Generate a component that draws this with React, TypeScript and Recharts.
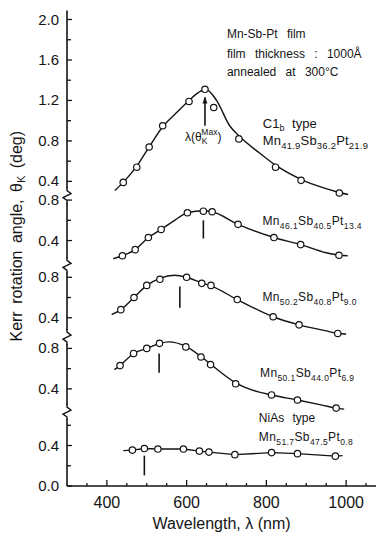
import { ComposedChart, Line, Scatter, XAxis, YAxis, ReferenceLine, ReferenceDot, Label } from 'recharts';

const INK = '#141414';
const FONT = '"Liberation Sans", Arial, Helvetica, sans-serif';

// each panel is stacked on one axis; zero of panel i sits at offsets[i]
const offsets = [2.611, 2.026, 1.263, 0.56, 0];
const breaks = [2.871, 2.181, 1.472, 0.731];

// measured points (wavelength nm, Kerr angle deg)
const wl1 = [441, 475, 506, 540, 606, 646, 668, 731, 823, 887, 983];
const kerr1 = [0.39, 0.54, 0.74, 0.95, 1.19, 1.31, 1.13, 0.82, 0.54, 0.41, 0.285];
const wl2 = [439, 471, 504, 536, 602, 642, 664, 729, 819, 886, 982];
const kerr2 = [0.25, 0.31, 0.43, 0.51, 0.675, 0.69, 0.685, 0.56, 0.43, 0.36, 0.255];
const wl3 = [435, 468, 500, 533, 600, 638, 661, 727, 817, 882, 979];
const kerr3 = [0.48, 0.6, 0.72, 0.78, 0.8, 0.74, 0.72, 0.58, 0.41, 0.33, 0.245];
const wl4 = [433, 467, 500, 532, 598, 636, 660, 723, 813, 878, 975];
const kerr4 = [0.63, 0.75, 0.8, 0.85, 0.815, 0.715, 0.64, 0.45, 0.34, 0.29, 0.21];
const wl5 = [464, 494, 528, 592, 632, 656, 721, 813, 878, 973];
const kerr5 = [0.355, 0.37, 0.365, 0.365, 0.345, 0.335, 0.31, 0.33, 0.32, 0.295];

// hand drawn fit curves
const fitWl1 = [420, 441, 475, 506, 540, 575, 606, 630, 648, 675, 708, 731, 783, 823, 887, 940, 983, 1005];
const fitK1 = [0.31, 0.39, 0.55, 0.74, 0.94, 1.08, 1.2, 1.28, 1.31, 1.2, 0.95, 0.85, 0.68, 0.56, 0.42, 0.34, 0.29, 0.27];
const fitWl2 = [416, 439, 471, 504, 536, 570, 602, 642, 664, 729, 819, 886, 950, 982, 1004];
const fitK2 = [0.22, 0.25, 0.31, 0.43, 0.51, 0.6, 0.675, 0.695, 0.685, 0.56, 0.43, 0.36, 0.28, 0.255, 0.25];
const fitWl3 = [412, 435, 468, 500, 533, 570, 600, 638, 661, 727, 817, 882, 950, 979, 1000];
const fitK3 = [0.43, 0.48, 0.6, 0.72, 0.79, 0.82, 0.8, 0.745, 0.715, 0.58, 0.41, 0.33, 0.27, 0.245, 0.24];
const fitWl4 = [419, 433, 467, 500, 532, 555, 598, 636, 660, 723, 780, 813, 878, 940, 975, 995];
const fitK4 = [0.59, 0.63, 0.75, 0.8, 0.85, 0.865, 0.82, 0.72, 0.645, 0.46, 0.37, 0.34, 0.29, 0.24, 0.21, 0.2];
const fitWl5 = [441, 464, 494, 528, 592, 632, 656, 721, 813, 878, 973, 991];
const fitK5 = [0.35, 0.355, 0.37, 0.365, 0.365, 0.345, 0.335, 0.31, 0.33, 0.32, 0.295, 0.3];

// lambda(theta_K max) markers
const peakWl = [646, 642, 583, 531, 494];
const peakLow = [0.95, 0.42, 0.5, 0.56, 0.105];
const peakHigh = [1.23, 0.6, 0.71, 0.75, 0.3];

// y ticks of each panel
const panelTicks = [
  [0.4, 0.6, 0.8, 1.0, 1.2, 1.4, 1.6, 1.8, 2.0],
  [0.4, 0.6, 0.8],
  [0.4, 0.6, 0.8],
  [0.4, 0.6, 0.8],
  [0.0, 0.2, 0.4, 0.6],
];
const xTicks = [350, 400, 450, 500, 550, 600, 650, 700, 750, 800, 850, 900, 950, 1000, 1050];
const xLabels = [400, 600, 800, 1000];

const formulas: [string, string][][] = [
  [['Mn', '41.9'], ['Sb', '36.2'], ['Pt', '21.9']],
  [['Mn', '46.1'], ['Sb', '40.5'], ['Pt', '13.4']],
  [['Mn', '50.2'], ['Sb', '40.8'], ['Pt', '9.0']],
  [['Mn', '50.1'], ['Sb', '44.0'], ['Pt', '6.9']],
  [['Mn', '51.7'], ['Sb', '47.5'], ['Pt', '0.8']],
];
const formulaWl = [791, 790, 790, 784, 781];
const formulaY = [3.371, 2.58, 1.824, 1.077, 0.445];

const filmNotes = ['Mn-Sb-Pt film', 'film thickness : 1000Å', 'annealed at 300°C'];
const filmNoteY = [4.433, 4.235, 4.048];

const stack = (wl: number[], k: number[], off: number) => wl.map((w, i) => ({ wl: w, y: k[i] + off }));

const points = [
  stack(wl1, kerr1, offsets[0]),
  stack(wl2, kerr2, offsets[1]),
  stack(wl3, kerr3, offsets[2]),
  stack(wl4, kerr4, offsets[3]),
  stack(wl5, kerr5, offsets[4]),
];
const curves = [
  stack(fitWl1, fitK1, offsets[0]),
  stack(fitWl2, fitK2, offsets[1]),
  stack(fitWl3, fitK3, offsets[2]),
  stack(fitWl4, fitK4, offsets[3]),
  stack(fitWl5, fitK5, offsets[4]),
];

const yTicks = panelTicks.flatMap((vals, i) =>
  vals.map(v => ({ pos: v + offsets[i], label: v.toFixed(1), major: Math.round(v * 10) % 4 === 0 })),
);
const findTick = (v: number) => yTicks.find(t => Math.abs(t.pos - v) < 1e-6);

const Y_DOMAIN = [0, 4.7];

function LeftTick(p: any) {
  const t = findTick(p.payload.value);
  if (!t) return null;
  return (
    <g>
      <line x1={p.x} y1={p.y} x2={p.x + (t.major ? 5 : 4)} y2={p.y} stroke={INK} strokeWidth={1.3} />
      {t.major && (
        <text x={p.x - 8} y={p.y + 5} textAnchor="end" fontSize={15} fontFamily={FONT} fill={INK}>
          {t.label}
        </text>
      )}
    </g>
  );
}

function RightTick(p: any) {
  return <line x1={p.x} y1={p.y} x2={p.x - 5} y2={p.y} stroke={INK} strokeWidth={1.3} />;
}

function BottomTick(p: any) {
  const major = xLabels.includes(p.payload.value);
  return (
    <g>
      <line x1={p.x} y1={p.y} x2={p.x} y2={p.y - (major ? 6 : 3)} stroke={INK} strokeWidth={1.3} />
      {major && (
        <text x={p.x} y={p.y + 22} textAnchor="middle" fontSize={16} fontFamily={FONT} fill={INK}>
          {p.payload.value}
        </text>
      )}
    </g>
  );
}

function TopTick(p: any) {
  const major = xLabels.includes(p.payload.value);
  return <line x1={p.x} y1={p.y} x2={p.x} y2={p.y + (major ? 6 : 3)} stroke={INK} strokeWidth={1.3} />;
}

function formulaSpans(parts: [string, string][], size: number, sub: number) {
  const shift = size * 0.3;
  return parts.flatMap(([el, n], i) => [
    <tspan key={'e' + i} fontSize={size} dy={i === 0 ? 0 : -shift}>{el}</tspan>,
    <tspan key={'n' + i} fontSize={sub} dy={shift}>{n}</tspan>,
  ]);
}

const textShape = (content: any, size: number, extra: any = {}) => (p: any) => (
  <text x={p.cx} y={p.cy} fontSize={size} fontFamily={FONT} fill={INK} {...extra}>
    {content}
  </text>
);

const zigzag = (p: any) => (
  <g>
    <rect x={p.cx - 2} y={p.cy - 7} width={4} height={14} fill="#fff" />
    <path
      d={`M${p.cx},${p.cy + 8} L${p.cx},${p.cy + 5} L${p.cx - 4},${p.cy + 2} L${p.cx + 4},${p.cy - 2} L${p.cx},${p.cy - 5} L${p.cx},${p.cy - 8}`}
      fill="none"
      stroke={INK}
      strokeWidth={1.4}
    />
  </g>
);

const arrowHead = (p: any) => (
  <path d={`M${p.cx},${p.cy - 1} L${p.cx - 2.5},${p.cy + 6} L${p.cx + 2.5},${p.cy + 6} Z`} fill={INK} />
);

const openCircle = (p: any) => <circle cx={p.cx} cy={p.cy} r={3.2} fill="#fff" stroke={INK} strokeWidth={1.2} />;

function YTitle(props: any) {
  const vb = props.viewBox;
  const x = vb.x + 14;
  const y = vb.y + vb.height / 2 - 12;
  return (
    <text x={x} y={y} transform={`rotate(-90, ${x}, ${y})`} textAnchor="middle" fontSize={16} fontFamily={FONT} fill={INK} wordSpacing={3}>
      Kerr rotation angle, θ<tspan fontSize={11} dy={3}>K</tspan>
      <tspan dy={-3}> (deg)</tspan>
    </text>
  );
}

function XTitle(props: any) {
  const vb = props.viewBox;
  return (
    <text x={vb.x + vb.width / 2 - 5} y={vb.y + 43} textAnchor="middle" fontSize={16} fontFamily={FONT} fill={INK}>
      Wavelength, λ (nm)
    </text>
  );
}

export default function App() {
  return (
    <div style={{ width: 376, height: 527, overflow: 'hidden', background: '#fff' }}>
      <ComposedChart width={390} height={527} margin={{ top: 2.5, right: 11, bottom: 0, left: 0 }}>
        <XAxis
          dataKey="wl"
          type="number"
          domain={[300, 1100]}
          ticks={xTicks}
          interval={0}
          allowDataOverflow
          height={49}
          tickSize={0}
          tickMargin={0}
          tickLine={false}
          tick={BottomTick}
          axisLine={{ stroke: INK, strokeWidth: 1.6 }}
        >
          <Label content={XTitle} />
        </XAxis>
        <XAxis
          xAxisId="top"
          orientation="top"
          type="number"
          domain={[300, 1100]}
          ticks={xTicks}
          interval={0}
          allowDataOverflow
          height={0}
          tickSize={0}
          tickMargin={0}
          tickLine={false}
          tick={TopTick}
          axisLine={{ stroke: INK, strokeWidth: 1.4 }}
        />
        <YAxis
          dataKey="y"
          type="number"
          domain={Y_DOMAIN}
          ticks={yTicks.map(t => t.pos)}
          interval={0}
          allowDataOverflow
          width={59}
          tickSize={0}
          tickMargin={0}
          tickLine={false}
          tick={LeftTick}
          axisLine={{ stroke: INK, strokeWidth: 1.6 }}
        >
          <Label content={YTitle} />
        </YAxis>
        <YAxis
          yAxisId="right"
          orientation="right"
          type="number"
          domain={Y_DOMAIN}
          ticks={yTicks.map(t => t.pos)}
          interval={0}
          allowDataOverflow
          width={1}
          tickSize={0}
          tickMargin={0}
          tickLine={false}
          tick={RightTick}
          axisLine={{ stroke: INK, strokeWidth: 1.4 }}
        />

        {curves.map((c, i) => (
          <Line
            key={'c' + i}
            data={c}
            dataKey="y"
            type={i === 4 ? 'linear' : 'monotone'}
            stroke={INK}
            strokeWidth={1.4}
            dot={false}
            activeDot={false}
            isAnimationActive={false}
          />
        ))}
        {points.map((pts, i) => (
          <Scatter key={'p' + i} data={pts} dataKey="y" shape={openCircle} isAnimationActive={false} />
        ))}

        {peakWl.map((w, i) => (
          <ReferenceLine
            key={'pk' + i}
            segment={[
              { x: w, y: peakLow[i] + offsets[i] },
              { x: w, y: peakHigh[i] + offsets[i] },
            ]}
            stroke={INK}
            strokeWidth={1.6}
          />
        ))}
        <ReferenceDot x={peakWl[0]} y={peakHigh[0] + offsets[0]} r={0} shape={arrowHead} />

        {breaks.map((b, i) => (
          <ReferenceDot key={'z' + i} x={300} y={b} r={0} ifOverflow="visible" shape={zigzag} />
        ))}

        {filmNotes.map((t, i) => (
          <ReferenceDot key={'n' + i} x={701} y={filmNoteY[i]} r={0} shape={textShape(t, 12, { wordSpacing: 6 })} />
        ))}
        <ReferenceDot
          x={596}
          y={3.41}
          r={0}
          shape={textShape(
            <>
              λ(θ<tspan fontSize={8.5} dy={3}>K</tspan>
              <tspan fontSize={8.5} dx={-6} dy={-9}>Max</tspan>
              <tspan dy={6}>)</tspan>
            </>,
            12,
          )}
        />
        <ReferenceDot
          x={791}
          y={3.543}
          r={0}
          shape={textShape(
            <>
              C1<tspan fontSize={9} dy={3}>b</tspan>
              <tspan dy={-3}> type</tspan>
            </>,
            13,
            { wordSpacing: 4 },
          )}
        />
        <ReferenceDot x={781} y={0.628} r={0} shape={textShape('NiAs type', 12, { wordSpacing: 5 })} />
        {formulas.map((f, i) => (
          <ReferenceDot
            key={'f' + i}
            x={formulaWl[i]}
            y={formulaY[i]}
            r={0}
            shape={textShape(formulaSpans(f, i === 0 ? 13 : 12, i === 0 ? 9.5 : 8.5), 12, { letterSpacing: i === 0 ? 0.2 : 0.4 })}
          />
        ))}
      </ComposedChart>
    </div>
  );
}
